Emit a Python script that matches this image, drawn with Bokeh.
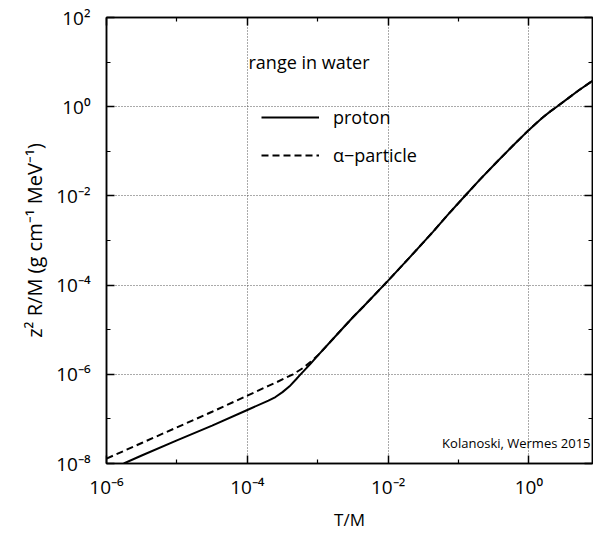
from bokeh.plotting import figure
from bokeh.models import (Range1d, FixedTicker, CustomJSTickFormatter, LogAxis,
                          Legend, LegendItem, Label)
from bokeh.embed import file_html
from bokeh.resources import INLINE

# ---- data, stored as log10 values of T/M and z^2 R/M ----
proton_logT = [-5.755, -5.5, -5.0, -4.5, -4.0, -3.7, -3.6, -3.5, -3.4, -3.3, -3.26, -3.2,
               -3.1, -3.0, -2.68, -2.5, -2.35, -2.0, -1.7, -1.36, -1.15, -0.92, -0.7,
               -0.456, -0.2, 0.0, 0.1, 0.2, 0.3, 0.396, 0.55, 0.704, 0.903]
proton_logR = [-8.0, -7.82, -7.48, -7.15, -6.80, -6.59, -6.51, -6.40, -6.27, -6.10, -6.03, -5.93,
               -5.76, -5.58, -5.03, -4.72, -4.48, -3.90, -3.39, -2.80, -2.42, -2.02, -1.64,
               -1.24, -0.83, -0.52, -0.375, -0.235, -0.11, 0.0, 0.18, 0.363, 0.58]
alpha_logT = [-6.0, -5.5, -5.0, -4.5, -4.0, -3.7, -3.6, -3.35, -3.2, -3.1, -3.0, -2.68,
              -2.5, -2.35, -2.0, -1.7, -1.36, -1.15, -0.92, -0.7, -0.456, -0.2, 0.0,
              0.1, 0.2, 0.3, 0.396, 0.55, 0.704, 0.903]
alpha_logR = [-7.89, -7.54, -7.19, -6.84, -6.48, -6.26, -6.19, -6.0, -5.85, -5.72, -5.58, -5.03,
              -4.72, -4.48, -3.90, -3.39, -2.80, -2.42, -2.02, -1.64, -1.24, -0.83, -0.52,
              -0.375, -0.235, -0.11, 0.0, 0.18, 0.363, 0.58]

x_major = [1e-6, 1e-4, 1e-2, 1e0]
x_minor = [1e-5, 1e-3, 1e-1, 1e1]
y_major = [1e-8, 1e-6, 1e-4, 1e-2, 1e0, 1e2]
y_minor = [1e-7, 1e-5, 1e-3, 1e-1, 1e1]

proton_T = [10 ** v for v in proton_logT]
proton_R = [10 ** v for v in proton_logR]
alpha_T = [10 ** v for v in alpha_logT]
alpha_R = [10 ** v for v in alpha_logR]

FONT = "Open Sans"

p = figure(width=593, height=535, x_axis_type="log", y_axis_type="log",
           x_range=Range1d(1e-6, 8.0), y_range=Range1d(1e-8, 1e2),
           output_backend="svg", toolbar_location=None,
           min_border_left=106, min_border_right=1, min_border_top=17, min_border_bottom=72)
p.background_fill_color = "white"
p.border_fill_color = "white"
p.outline_line_color = "black"
p.outline_line_width = 1.5

sup_code = """
const sup = {"-":"\u207b","0":"\u2070","1":"\u00b9","2":"\u00b2","3":"\u00b3","4":"\u2074",
             "5":"\u2075","6":"\u2076","7":"\u2077","8":"\u2078","9":"\u2079"};
const e = Math.round(Math.log10(tick));
return "10" + String(e).split("").map(c => sup[c]).join("");
"""
fmt = CustomJSTickFormatter(code=sup_code)
blank = CustomJSTickFormatter(code="return '';")

xt = FixedTicker(ticks=x_major, minor_ticks=x_minor)
yt = FixedTicker(ticks=y_major, minor_ticks=y_minor)

def style_axis(ax, ticker, formatter):
    ax.ticker = ticker
    ax.formatter = formatter
    ax.axis_line_color = "black"
    ax.axis_line_width = 1.5
    ax.major_tick_in = 8
    ax.major_tick_out = 0
    ax.minor_tick_in = 4
    ax.minor_tick_out = 0
    ax.major_tick_line_width = 1.5
    ax.minor_tick_line_width = 1.2
    ax.major_label_text_font = FONT
    ax.major_label_text_font_size = "19px"
    ax.major_label_text_color = "black"
    ax.axis_label_text_font = FONT
    ax.axis_label_text_font_size = "17px"
    ax.axis_label_text_font_style = "normal"
    ax.axis_label_text_color = "black"

style_axis(p.xaxis[0], xt, fmt)
style_axis(p.yaxis[0], yt, fmt)
p.xaxis[0].axis_label = "T/M"
p.xaxis[0].major_label_standoff = 10
p.xaxis[0].axis_label_standoff = 5
p.yaxis[0].axis_label = "z\u00b2 R/M (g cm\u207b\u00b9 MeV\u207b\u00b9)"
p.yaxis[0].axis_label_text_font_size = "20px"
p.yaxis[0].major_label_standoff = 16
p.yaxis[0].axis_label_standoff = 5

# mirrored axes (ticks only)
top = LogAxis()
right = LogAxis()
style_axis(top, FixedTicker(ticks=x_major, minor_ticks=x_minor), blank)
style_axis(right, FixedTicker(ticks=y_major, minor_ticks=y_minor), blank)
for ax in (top, right):
    ax.major_label_standoff = 0
    ax.major_label_text_font_size = "0px"
p.add_layout(top, "above")
p.add_layout(right, "right")

for g, t in ((p.xgrid[0], xt), (p.ygrid[0], yt)):
    g.ticker = t
    g.grid_line_color = "#555555"
    g.grid_line_dash = "1 2"
    g.grid_line_width = 1

r_p = p.line(proton_T, proton_R, line_color="black", line_width=2)
r_a = p.line(alpha_T, alpha_R, line_color="black", line_width=2, line_dash="7 4")

legend = Legend(items=[LegendItem(label="proton", renderers=[r_p]),
                       LegendItem(label="\u03b1\u2212particle", renderers=[r_a])],
                location=(155, 296))
legend.border_line_alpha = 0
legend.background_fill_alpha = 0
legend.padding = 0
legend.margin = 0
legend.spacing = 14
legend.glyph_width = 58
legend.glyph_height = 20
legend.label_height = 20
legend.label_standoff = 14
legend.label_text_font = FONT
legend.label_text_font_size = "18px"
legend.label_text_color = "black"
p.add_layout(legend)

p.add_layout(Label(x=142, y=402, x_units="screen", y_units="screen",
                   text="range in water", text_font=FONT, text_font_size="18px",
                   text_color="black", text_baseline="middle", text_align="left"))
p.add_layout(Label(x=484, y=21, x_units="screen", y_units="screen",
                   text="Kolanoski, Wermes 2015", text_font=FONT, text_font_size="13px",
                   text_color="black", text_baseline="middle", text_align="right"))

open("out.html", "w").write(file_html(p, INLINE))
